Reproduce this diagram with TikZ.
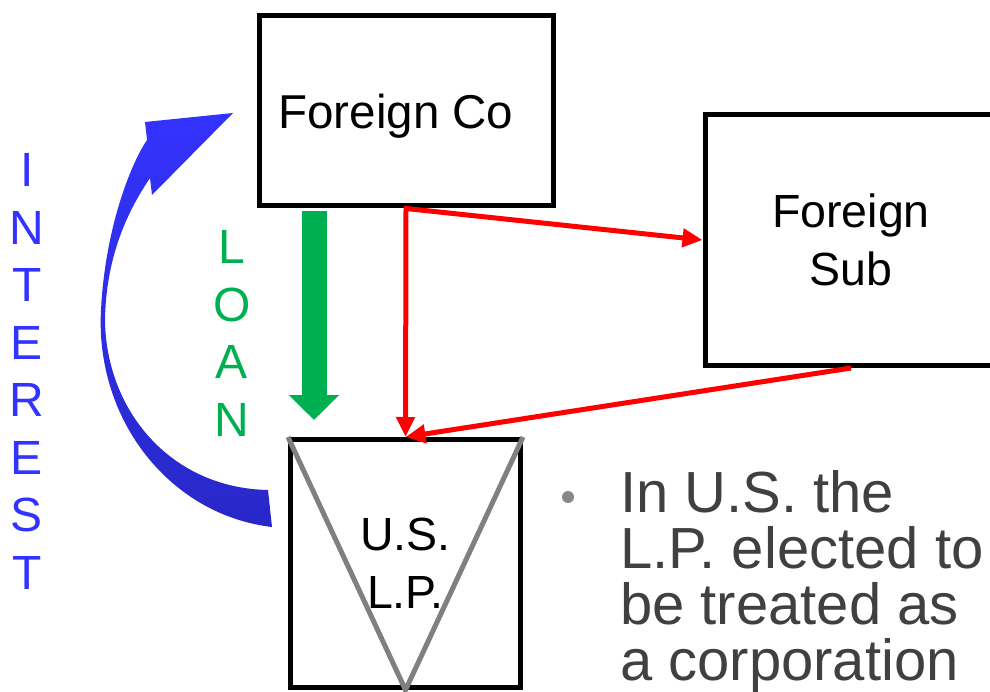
\documentclass[tikz,border=0pt]{standalone}
\usepackage{fontspec}
\setmainfont{Liberation Sans}
\usepackage{tikz}
\usetikzlibrary{
  % enables the Triangle tips
  arrows.meta,%
  calc,%
  positioning
}
\definecolor{loangreen}{RGB}{0,176,80}
\definecolor{interestblue}{RGB}{51,51,255}
\definecolor{interestdark}{RGB}{40,40,200}
\definecolor{notegray}{RGB}{64,64,64}
\definecolor{dotgray}{RGB}{136,136,136}
\tikzset{>={Triangle[length=20pt, width=18pt]}}
\tikzset{entity/.style={draw, line width=5pt, align=center,
    font=\fontsize{46.5}{58}\selectfont}}
\tikzset{flow/.style={red, line width=5pt}}
\tikzset{vletters/.style={align=center, inner sep=0pt,
    font=\fontsize{48}{57.5}\selectfont}}

\begin{document}
\begin{tikzpicture}[x=1pt, y=-1pt]
  \clip (0, 0) rectangle (990, 692); %
  % the three companies
  \node[entity, minimum width=294, minimum height=190, text depth=0pt] (fco) at (406, 111) {\fontsize{47.5}{58}\selectfont Foreign Co\hspace*{20pt}};
  \node[entity, minimum width=292, minimum height=251] (fsub) at (851, 240) {Foreign\\Sub};
  \node[entity, minimum width=230, minimum height=248] (lp) at (405.5, 563.5) {U.S.\\L.P.};
  \draw[gray, line width=5pt] (lp.north west) -- (lp.south) -- (lp.north east); %
  % loan and interest
  \coordinate (loanend) at (314, 420); %
  \draw[loangreen, line width=25pt, shorten <=2.5pt,
    -{Triangle[length=25pt, width=49pt]}] (fco.south -| loanend) -- (loanend); %
  \node[vletters, loangreen] (loan) at (232, 333.5) {L\\O\\A\\N};
  \shade[top color=interestblue, bottom color=interestdark]
    (272, 527) .. controls (170, 515) and (95, 420) .. (101, 310)
    .. controls (105, 230) and (130, 165) .. (147, 140)
    -- (145, 122) -- (233, 113) -- (152, 195) -- (150, 178)
    .. controls (125, 215) and (106, 260) .. (105, 320)
    .. controls (106, 410) and (170, 488) .. (268, 490) -- cycle; %
  \node[vletters, interestblue] (interest) at (27, 371.5) {I\\N\\T\\E\\R\\E\\S\\T};
  % ownership
  \draw[flow, <->] (lp.north) -- (fco.south) -- (fsub.west); %
  \draw[flow, ->] (fsub.south) -- (lp.north); %
  % the note
  \node[circle, fill=dotgray, inner sep=0pt, minimum size=12] (dot) at (568, 497) {};
  \node[anchor=base west, align=left, inner sep=0pt, text=notegray,
    font=\fontsize{58}{56}\selectfont] (note) at (620, 680)
    {In U.S. the\\L.P. elected to\\be treated as\\a corporation};
\end{tikzpicture}
\end{document}
